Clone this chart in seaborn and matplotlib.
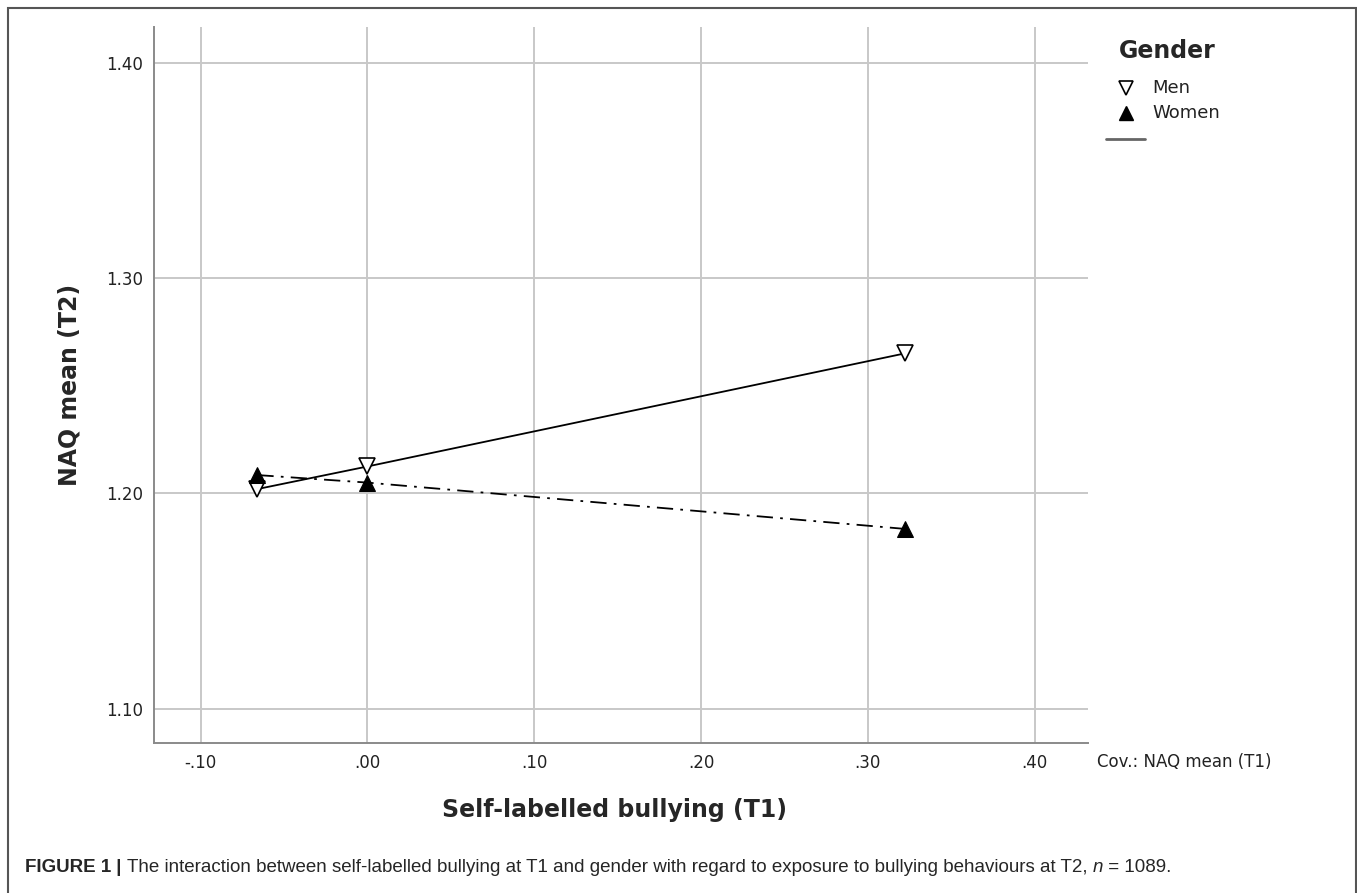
import matplotlib
matplotlib.use('Agg')
import matplotlib.pyplot as plt
import seaborn as sns
import pandas as pd
from matplotlib.lines import Line2D
from matplotlib.patches import Rectangle
from matplotlib import font_manager

# data
x_vals = [-0.066, 0.0, 0.322]
men_vals = [1.202, 1.2125, 1.265]
women_vals = [1.2085, 1.205, 1.1835]
x_ticks = [-0.10, 0.0, 0.10, 0.20, 0.30, 0.40]
x_ticklabels = ['-.10', '.00', '.10', '.20', '.30', '.40']
y_ticks = [1.10, 1.20, 1.30, 1.40]
y_ticklabels = ['1.10', '1.20', '1.30', '1.40']

df = pd.DataFrame({
    'x': x_vals * 2,
    'y': men_vals + women_vals,
    'Gender': ['Men'] * 3 + ['Women'] * 3,
})

sns.set_style('white')
plt.rcParams['font.family'] = ['DejaVu Sans']

W, H = 1357, 893
fig = plt.figure(figsize=(W / 100, H / 100), dpi=100)
ax = fig.add_axes([154 / W, 1 - 743 / H, (1088 - 154) / W, (743 - 27) / H])

grid_c = '#c8c8c8'
for xt in x_ticks:
    ax.axvline(xt, color=grid_c, lw=1.4, zorder=0)
for yt in y_ticks:
    ax.axhline(yt, color=grid_c, lw=1.4, zorder=0)

men = df[df['Gender'] == 'Men']
women = df[df['Gender'] == 'Women']
sns.lineplot(data=men, x='x', y='y', ax=ax, color='black', lw=1.3,
             marker='v', markersize=11, markerfacecolor='white',
             markeredgecolor='black', markeredgewidth=1.2, legend=False, zorder=3)
sns.lineplot(data=women, x='x', y='y', ax=ax, color='black', lw=1.3,
             marker='^', markersize=11, markerfacecolor='black',
             markeredgecolor='black', legend=False, zorder=3)
ax.lines[-1].set_dashes([9, 4, 1.5, 4])

ax.set_xlim(-0.128, 0.432)
ax.set_ylim(1.084, 1.4167)
ax.set_xticks(x_ticks)
ax.set_xticklabels(x_ticklabels)
ax.set_yticks(y_ticks)
ax.set_yticklabels(y_ticklabels)
ax.tick_params(length=0, labelsize=12, colors='#222222', pad=8)
ax.set_xlabel('')
ax.set_ylabel('')
for s in ['top', 'right']:
    ax.spines[s].set_visible(False)
for s in ['left', 'bottom']:
    ax.spines[s].set_color('#8a8a8a')
    ax.spines[s].set_linewidth(1.4)

fig.text(70 / W, 1 - 385 / H, 'NAQ mean (T2)', rotation=90, ha='center', va='center',
         fontsize=17, fontweight='bold')
fig.text(442 / W, 1 - 810 / H, 'Self-labelled bullying (T1)', ha='left', va='center',
         fontsize=17, fontweight='bold')
fig.text(1097 / W, 1 - 762 / H, 'Cov.: NAQ mean (T1)', ha='left', va='center',
         fontsize=12, color='#222222')

# legend, drawn by hand
fig.text(1119 / W, 1 - 51 / H, 'Gender', ha='left', va='center', fontsize=17, fontweight='bold')
fig.add_artist(Line2D([1126 / W], [1 - 88 / H], marker='v', markersize=10, mfc='white',
                      mec='black', mew=1.2, ls='none'))
fig.add_artist(Line2D([1126 / W], [1 - 113 / H], marker='^', markersize=10, mfc='black',
                      mec='black', ls='none'))
fig.text(1152 / W, 1 - 88 / H, 'Men', ha='left', va='center', fontsize=13, color='#222222')
fig.text(1152 / W, 1 - 113 / H, 'Women', ha='left', va='center', fontsize=13, color='#222222')
fig.add_artist(Line2D([1106 / W, 1145 / W], [1 - 139 / H] * 2, color='#666666', lw=2))

# outer frame
fig.add_artist(Rectangle((8 / W, -0.02), (1356 - 8) / W, 1.02 - 8 / H, transform=fig.transFigure,
                         fill=False, edgecolor='#555555', lw=1.5))

# caption
names = {f.name for f in font_manager.fontManager.ttflist}
cap_font = 'Liberation Sans Narrow' if 'Liberation Sans Narrow' in names else 'Liberation Sans'
cap_size = 13.5
t1 = fig.text(25 / W, 1 - 868 / H, 'FIGURE 1', ha='left', va='center', fontsize=cap_size,
              fontweight='bold', family=cap_font)
t2 = ax.annotate(' | ', xy=(1, 0), xycoords=t1, va='bottom', ha='left', fontsize=cap_size,
                 fontweight='bold', family=cap_font, annotation_clip=False)
t3 = ax.annotate('The interaction between self-labelled bullying at T1 and gender with regard to '
                 'exposure to bullying behaviours at T2, ', xy=(1, 0), xycoords=t2, va='bottom',
                 ha='left', fontsize=cap_size, family=cap_font, annotation_clip=False)
t4 = ax.annotate('n', xy=(1, 0), xycoords=t3, va='bottom', ha='left', fontsize=cap_size,
                 style='italic', family=cap_font, annotation_clip=False)
ax.annotate(' = 1089.', xy=(1, 0), xycoords=t4, va='bottom', ha='left', fontsize=cap_size,
            family=cap_font, annotation_clip=False)

fig.savefig('out.png', dpi=100, facecolor='white')
